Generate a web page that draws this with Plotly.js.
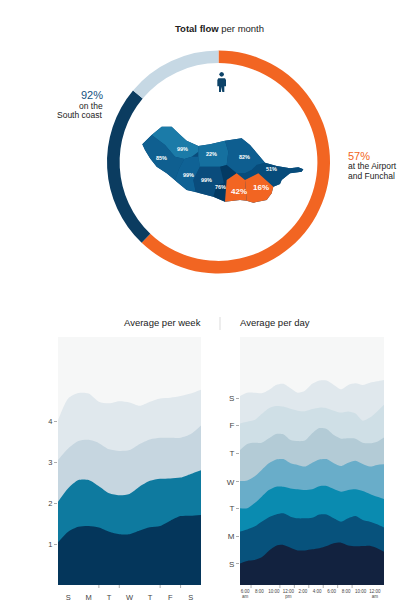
<!DOCTYPE html>
<html>
<head>
<meta charset="utf-8">
<script src="https://cdn.plot.ly/plotly-3.0.1.min.js"></script>
<style>html,body{margin:0;padding:0;background:#fff}#chart{width:412px;height:604px}</style>
</head>
<body>
<div id="chart"></div>
<script>
// ---- Ring
const ringLabels = ["At the Airport and Funchal", "On the South coast", "Elsewhere"];
const ringValues = [62.1, 24, 13.9];
const ringColors = ["#f26522", "#0b3c60", "#c6d8e4"];

// ---- Map regions (map-plane coordinates)
const islandX = [277,305,335,365,390,410,445,480,525,575,600,630,645,680,720,745,760,755,720,695,690,670,665,650,610,590,570,525,490,450,410,380,350,320,300,285];
const islandY = [403,375,350,350,375,392,408,403,392,385,405,440,458,468,475,472,478,485,490,510,522,530,550,570,578,572,570,575,560,550,540,515,490,470,445,420];
const regionHeights = ["99%", "85%", "99%", "22%", "82%", "51%", "99%", "76%", "42%", "16%"];
const regionColors = ["#1b7ba8", "#0f5f90", "#0f6295", "#15709f", "#0e5e90", "#074c7b", "#0a4c7c", "#033a63", "#f26522", "#f26522"];
const regionX = [
  [305,335,365,390,410,445,445,425,403,375,345],
  [277,305,345,375,403,388,375,350,320,300,285],
  [403,425,445,450,445,430,437,410,380,375,388],
  [445,480,525,535,530,510,470,450,445,445],
  [525,575,600,630,645,620,605,585,560,530,535],
  [645,680,720,745,760,755,720,695,690,670,625,585,560,585,605,620],
  [450,510,515,522,500,490,450,437,430,445],
  [510,530,560,530,525,490,500,522,515],
  [560,585,590,570,525,530],
  [585,625,670,665,650,610,590]
];
const regionY = [
  [375,350,350,375,392,408,425,440,447,440,405],
  [403,375,405,440,447,475,510,490,470,445,420],
  [447,440,440,470,480,510,545,540,515,510,475],
  [408,403,392,425,465,470,470,470,440,425],
  [392,385,405,440,458,465,480,490,490,465,425],
  [458,468,475,472,478,485,490,510,522,530,490,510,490,490,480,465],
  [470,470,490,520,525,560,550,545,510,480],
  [470,465,490,510,575,560,525,520,490],
  [490,510,572,570,575,510],
  [510,490,530,550,570,578,572]
];
const labelX = [397,335,415,485,582,663,470,510,568,633];
const labelY = [418,445,495,433,440,478,510,530,544,533];
const personBodyX = [505,525,528,528,523,523,517,516,514,513,507,507,502,502];
const personBodyY = [205,205,210,229,229,246,246,230,230,246,246,229,229,210];
const personHeadX = [515,520,522,520,515,510,508,510];
const personHeadY = [186,188,193,198,200,198,193,188];

// ---- Average per week (cumulative tops of each band)
const weekX = [0,0.5,1,1.5,2,2.5,3,3.5,4,4.5,5,5.5,6,6.5,7];
const weekBand1 = [1.04,1.30,1.42,1.44,1.40,1.30,1.24,1.24,1.33,1.41,1.44,1.57,1.68,1.69,1.71];
const weekBand2 = [2.03,2.36,2.56,2.56,2.41,2.24,2.19,2.22,2.40,2.54,2.59,2.60,2.62,2.71,2.80];
const weekBand3 = [3.05,3.33,3.51,3.54,3.46,3.31,3.27,3.29,3.44,3.55,3.59,3.59,3.59,3.68,3.89];
const weekBand4 = [4.02,4.55,4.68,4.67,4.47,4.43,4.48,4.45,4.37,4.47,4.55,4.57,4.61,4.67,4.76];
const weekColors = ["#04365b", "#0e7a9f", "#c6d6e0", "#e0e8ed"];
const weekTickVals = [0.5,1.5,2.5,3.5,4.5,5.5,6.5];
const weekTickText = ["S","M","T","W","T","F","S"];
const weekMarks = [2,3,5,6];
const weekLevels = [1,2,3,4];

// ---- Average per day (cumulative tops of each band)
const dayX = [5.3,6.3,7.3,8.3,9.3,10.3,11.3,12.3,13.3,14.3,15.3,16.3,17.3,18.3,19.3,20.3,21.3,22.3,23.3,24.3,25.25];
const dayBand1 = [0.78,0.87,0.90,1.00,1.24,1.42,1.45,1.35,1.25,1.25,1.29,1.33,1.41,1.51,1.53,1.43,1.40,1.41,1.42,1.33,1.20];
const dayBand2 = [1.93,2.01,2.11,2.29,2.45,2.55,2.59,2.47,2.41,2.41,2.43,2.55,2.55,2.41,2.29,2.41,2.49,2.35,2.29,2.20,2.08];
const dayBand3 = [2.77,2.77,2.95,3.19,3.43,3.55,3.55,3.49,3.46,3.43,3.46,3.57,3.58,3.47,3.37,3.43,3.46,3.40,3.29,3.19,3.11];
const dayBand4 = [3.76,3.78,3.92,4.16,4.40,4.54,4.55,4.40,4.34,4.28,4.42,4.54,4.55,4.40,4.30,4.42,4.49,4.37,4.28,4.34,4.36];
const dayBand5 = [4.88,5.10,5.14,5.14,5.30,5.46,5.45,5.24,5.20,5.22,5.48,5.67,5.64,5.42,5.29,5.30,5.29,5.14,5.12,5.18,5.33];
const dayBand6 = [5.84,5.90,5.96,6.18,6.39,6.47,6.45,6.37,6.30,6.28,6.36,6.41,6.39,6.30,6.23,6.27,6.20,5.94,6.05,6.27,6.51];
const dayBand7 = [6.83,6.95,6.95,6.93,7.05,7.23,7.27,7.11,6.95,7.02,7.27,7.39,7.39,7.23,7.07,7.23,7.29,7.23,7.31,7.36,7.41];
const dayColors = ["#12223f", "#07527c", "#0a8bb0", "#69adc9", "#b3cbd6", "#cfdfe6", "#e0e8ed"];
const dayTickVals = [6,8,10,12,14,16,18,20,22,24];
const dayTickText = ["6:00<br>am","8:00","10:00","12:00<br>pm","2:00","4:00","6:00","8:00","10:00","12:00<br>am"];
const dayMarks = [6.83,10.83,12.83,14.83,16.83,18.83,20.83];
const dayLevels = [0.76,1.75,2.77,3.73,4.76,5.78,6.75];
const dayLevelText = ["S","M","T","W","T","F","S"];

const W = 412, H = 604;
const px = v => v / W, py = v => 1 - v / H;
const FONT = "Liberation Sans, Arial, sans-serif";
const PANEL = "#f6f7f7";

function band(x, y, color, xa, ya) {
  return {type:"scatter", mode:"lines", x, y, xaxis:xa, yaxis:ya, fill:"tozeroy",
    fillcolor:color, line:{width:0, shape:"spline", smoothing:0.7, color}, hoverinfo:"skip", showlegend:false};
}
function mapShape(x, y, color) {
  return {type:"scatter", mode:"lines", x, y, xaxis:"x3", yaxis:"y3", fill:"toself",
    fillcolor:color, line:{width:0, color}, hoverinfo:"skip", showlegend:false};
}

const data = [
  {type:"pie", labels:ringLabels, values:ringValues, sort:false, direction:"clockwise", rotation:0,
    hole:0.887, marker:{colors:ringColors, line:{width:0}}, textinfo:"none", hoverinfo:"skip", showlegend:false,
    domain:{x:[px(218.5-111.5), px(218.5+111.5)], y:[py(162+111.5), py(162-111.5)]}},
  band(weekX, weekBand4, weekColors[3], "x", "y"),
  band(weekX, weekBand3, weekColors[2], "x", "y"),
  band(weekX, weekBand2, weekColors[1], "x", "y"),
  band(weekX, weekBand1, weekColors[0], "x", "y"),
  band(dayX, dayBand7, dayColors[6], "x2", "y2"),
  band(dayX, dayBand6, dayColors[5], "x2", "y2"),
  band(dayX, dayBand5, dayColors[4], "x2", "y2"),
  band(dayX, dayBand4, dayColors[3], "x2", "y2"),
  band(dayX, dayBand3, dayColors[2], "x2", "y2"),
  band(dayX, dayBand2, dayColors[1], "x2", "y2"),
  band(dayX, dayBand1, dayColors[0], "x2", "y2"),
  mapShape(islandX, islandY, "#0a4c7c")
];
regionX.forEach((x, i) => data.push(mapShape(x, regionY[i], regionColors[i])));
data.push(mapShape(personBodyX, personBodyY, "#0d4368"));
data.push(mapShape(personHeadX, personHeadY, "#0d4368"));

const hidden = {visible:false, fixedrange:true};
function note(text, x, y, size, color, anchor, bold) {
  return {text: bold ? "<b>" + text + "</b>" : text, x, y, xref:"x3", yref:"y3", showarrow:false,
    xanchor:anchor || "center", yanchor:"middle", align:anchor || "center",
    font:{family:FONT, size, color}};
}
const annotations = [
  note("<b>Total flow</b> per month", 508, 55, 9.5, "#222"),
  note("92%", 166, 255, 11, "#14527f", "right"),
  note("on the", 166, 288, 8.5, "#222", "right"),
  note("South coast", 166, 315, 8.5, "#222", "right"),
  note("57%", 888, 437, 11, "#f26522", "left"),
  note("at the Airport", 888, 467, 8.5, "#222", "left"),
  note("and Funchal", 888, 497, 8.5, "#222", "left"),
  note("Average per week", 337, 938, 9.5, "#222"),
  note("Average per day", 674, 938, 9.5, "#222")
];
regionHeights.forEach((t, i) => annotations.push(
  note(t, labelX[i], labelY[i], i >= 8 ? 8 : 5.5, "#ffffff", "center", true)));

const shapes = [
  {type:"rect", xref:"paper", yref:"paper", x0:px(58), x1:px(201), y0:py(585), y1:py(337), fillcolor:PANEL, line:{width:0}, layer:"below"},
  {type:"rect", xref:"paper", yref:"paper", x0:px(240), x1:px(384), y0:py(585), y1:py(337), fillcolor:PANEL, line:{width:0}, layer:"below"},
  {type:"line", xref:"paper", yref:"paper", x0:px(220), x1:px(220), y0:py(317), y1:py(330), line:{color:"#cccccc", width:0.7}}
];
weekMarks.forEach(v => shapes.push({type:"line", xref:"x", yref:"paper", x0:v, x1:v, y0:py(585), y1:py(588), line:{color:"#777", width:0.6}}));
dayMarks.forEach(v => shapes.push({type:"line", xref:"x2", yref:"paper", x0:v, x1:v, y0:py(585), y1:py(588), line:{color:"#777", width:0.6}}));

const layout = {
  width:W, height:H, margin:{l:0,r:0,t:0,b:0,pad:0},
  paper_bgcolor:"#ffffff", plot_bgcolor:"rgba(0,0,0,0)", showlegend:false, font:{family:FONT},
  xaxis:{domain:[px(58),px(201)], range:[0,7], showgrid:false, zeroline:false, showline:false,
    tickmode:"array", tickvals:weekTickVals, ticktext:weekTickText, ticks:"", ticklabelstandoff:6,
    tickfont:{size:7.5, color:"#444", family:FONT}, fixedrange:true},
  yaxis:{domain:[py(585),py(337)], range:[0,248/41], showgrid:false, zeroline:false, showline:false,
    tickmode:"array", tickvals:weekLevels, ticktext:weekLevels.map(String), ticks:"outside", ticklen:3, tickwidth:0.6, tickcolor:"#777",
    tickfont:{size:7.5, color:"#444", family:FONT}, fixedrange:true},
  xaxis2:{domain:[px(240),px(384)], range:[5.3,25.25], anchor:"y2", showgrid:false, zeroline:false, showline:false,
    tickmode:"array", tickvals:dayTickVals, ticktext:dayTickText, ticks:"", ticklabelstandoff:2,
    tickfont:{size:4.5, color:"#444", family:FONT}, fixedrange:true},
  yaxis2:{domain:[py(585),py(337)], range:[0,248/27.67], anchor:"x2", showgrid:false, zeroline:false, showline:false,
    tickmode:"array", tickvals:dayLevels, ticktext:dayLevelText, ticks:"outside", ticklen:3, tickwidth:0.6, tickcolor:"#777",
    tickfont:{size:8, color:"#444", family:FONT}, fixedrange:true},
  xaxis3:Object.assign({domain:[px(50),px(400)], range:[0,1050], anchor:"y3"}, hidden),
  yaxis3:Object.assign({domain:[py(330),py(10)], range:[960,0], anchor:"x3"}, hidden),
  annotations, shapes
};
Plotly.newPlot("chart", data, layout, {displayModeBar:false, staticPlot:true});
</script>
</body>
</html>
